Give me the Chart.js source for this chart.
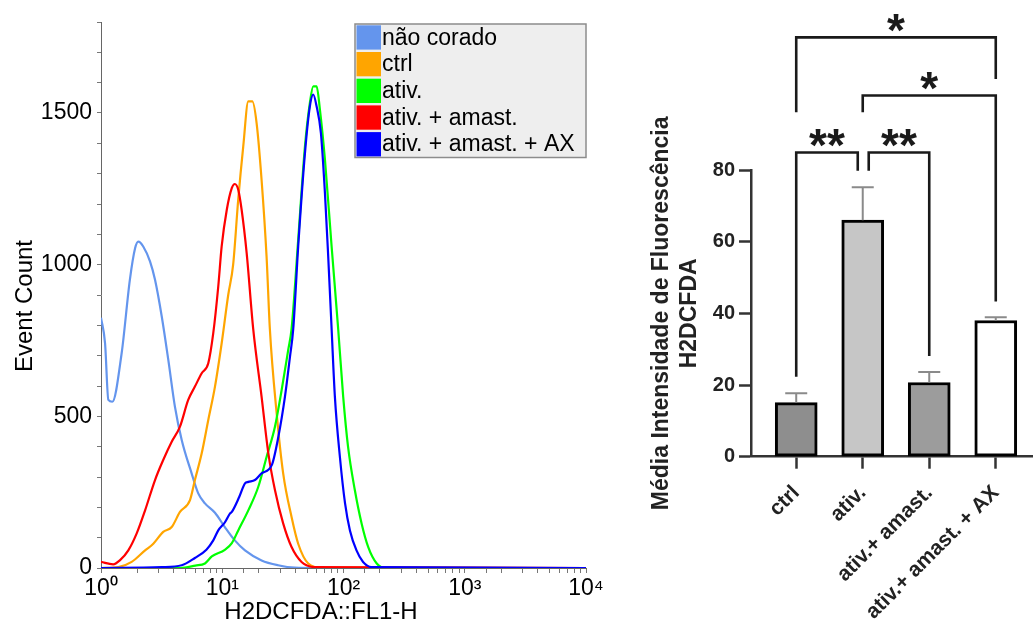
<!DOCTYPE html>
<html>
<head>
<meta charset="utf-8">
<script src="https://cdn.jsdelivr.net/npm/chart.js@4.4.1/dist/chart.umd.min.js"></script>
<style>
  html, body { margin: 0; padding: 0; background: #fff; width: 1033px; height: 621px; overflow: hidden; }
  #hist { position: absolute; left: 0; top: 0; }
  #bars { position: absolute; left: 620px; top: 0; }
</style>
</head>
<body>
<canvas id="hist" width="620" height="621"></canvas>
<canvas id="bars" width="413" height="621"></canvas>
<script>
// ---- histogram overlay (x = H2DCFDA FL1-H, y = event count) ----
const naoCoradoX = [1, 1.08, 1.15, 1.24, 1.48, 1.73, 1.91, 2.03, 2.23, 2.54, 2.79, 3.17, 3.59, 4.07, 4.63, 5.59, 6.34, 7.2, 8.71, 10.5, 12.7, 15.4, 21.1, 28.9, 39.7, 60, 10000]
const naoCoradoY = [825, 741, 554, 548, 708, 950, 1054, 1076, 1060, 1010, 950, 829, 686, 532, 422, 312, 246, 213, 182, 135, 91, 58, 25, 9, 1, 0, 0]

const ctrlX = [1, 1.39, 1.79, 2.31, 2.7, 3.26, 3.83, 4.48, 5.42, 5.95, 6.77, 7.67, 8.71, 9.89, 11.2, 12.3, 13.55, 14.9, 16.4, 17.7, 19.2, 21.1, 23.2, 24.7, 28.1, 31.8, 37.3, 42.3, 51.2, 66, 10000]
const ctrlY = [0, 3, 20, 58, 80, 119, 135, 185, 224, 290, 378, 488, 598, 741, 900, 1000, 1215, 1390, 1538, 1538, 1467, 1280, 1027, 788, 510, 312, 168, 80, 15, 1, 0]

const ativX = [1, 4.5, 6, 7.2, 8.2, 10.5, 12, 13.55, 16.4, 19.8, 23.2, 27.2, 30.9, 35, 37.3, 42.3, 48.1, 52.8, 56.3, 60, 63.9, 70.3, 79.8, 90.4, 99.4, 109, 124, 141, 160, 188, 220, 10000]
const ativY = [0, 0, 8, 15, 38, 60, 82, 124, 190, 267, 366, 466, 587, 719, 788, 1082, 1390, 1533, 1588, 1588, 1511, 1346, 1060, 788, 565, 400, 257, 147, 69, 15, 0, 0]

const amastX = [1, 1.26, 1.43, 1.68, 1.97, 2.31, 2.79, 3.26, 3.83, 4.48, 5.24, 5.95, 6.77, 7.67, 8.43, 9.27, 9.89, 10.9, 12, 12.7, 13.55, 14.45, 15.9, 18, 21.1, 24, 27.2, 31.8, 37.3, 45.1, 58, 10000]
const amastY = [20, 12, 25, 58, 114, 190, 290, 356, 416, 466, 554, 598, 642, 675, 774, 928, 1060, 1181, 1253, 1266, 1247, 1181, 1038, 788, 565, 378, 257, 147, 69, 20, 3, 0]

const amastAxX = [1, 3.17, 4.63, 5.95, 7.4, 8.43, 9.27, 10.5, 11.6, 12, 13.8, 15.4, 16.4, 18.6, 21.1, 25.6, 29, 32.9, 36.2, 38.5, 42.3, 48.1, 52.8, 56.3, 60, 65.1, 70.3, 74.8, 79.8, 84.9, 93.4, 103, 113, 128, 145, 170, 10000]
const amastAxY = [0, 3, 9, 33, 60, 91, 124, 150, 180, 185, 234, 279, 284, 290, 312, 339, 432, 565, 697, 788, 1060, 1368, 1522, 1561, 1522, 1434, 1236, 1027, 788, 565, 366, 213, 124, 58, 20, 3, 0]

const seriesLabels = ['não corado', 'ctrl', 'ativ.', 'ativ. + amast.', 'ativ. + amast. + AX']
const seriesX = [naoCoradoX, ctrlX, ativX, amastX, amastAxX]
const seriesY = [naoCoradoY, ctrlY, ativY, amastY, amastAxY]
const seriesColors = ['#6495ed', '#ffa500', '#00ff00', '#ff0000', '#0000ff']

const decadeLabels = ['10⁰', '10¹', '10²', '10³', '10⁴']

// ---- bar chart: mean fluorescence +/- SD ----
const groupLabels = ['ctrl', 'ativ.', 'ativ.+ amast.', 'ativ.+ amast. + AX']
const meanFluor = [15.1, 66.0, 20.7, 38.0]
const sdFluor = [2.6, 9.2, 2.9, 0.9]
const barFills = ['#8e8e8e', '#c6c6c6', '#9c9c9c', '#ffffff']

// significance brackets: from/to group, line level, leg ends (all in axis units)
const sigBrackets = [
  { from: 0, to: 3, level: 117, dropL: 96.1, dropR: 105.4, mark: '*' },
  { from: 1, to: 3, level: 100.8, dropL: 96.1, dropR: 43.3, mark: '*' },
  { from: 0, to: 0.925, level: 84.9, dropL: 22.3, dropR: 79.8, mark: '**' },
  { from: 1.09, to: 2, level: 84.9, dropL: 79.8, dropR: 28.1, mark: '**' },
]

const FONT = '"Liberation Sans", Arial, sans-serif'

const histDecor = {
  id: 'histDecor',
  afterDraw(chart) {
    const { ctx, chartArea: a } = chart
    ctx.save()
    // legend box in the top-right corner
    const w = 231, rowH = 26.7
    const x0 = a.right - w, y0 = a.top + 2
    ctx.fillStyle = '#eeeeee'
    ctx.fillRect(x0, y0, w, rowH * 5)
    ctx.strokeStyle = '#8c8c8c'
    ctx.lineWidth = 1.5
    ctx.strokeRect(x0, y0, w, rowH * 5)
    ctx.font = '23px ' + FONT
    ctx.textAlign = 'left'
    ctx.textBaseline = 'middle'
    seriesLabels.forEach((lab, i) => {
      const y = y0 + i * rowH
      ctx.fillStyle = seriesColors[i]
      ctx.fillRect(x0 + 1.5, y + 1.3, 24.5, 24.3)
      ctx.fillStyle = '#000'
      ctx.fillText(lab, x0 + 27, y + rowH / 2 + 1)
    })
    // axis titles
    ctx.font = '24px ' + FONT
    ctx.textAlign = 'center'
    ctx.textBaseline = 'alphabetic'
    ctx.fillText('H2DCFDA::FL1-H', 321, 619)
    ctx.translate(31.5, 306)
    ctx.rotate(-Math.PI / 2)
    ctx.fillText('Event Count', 0, 0)
    ctx.restore()
  }
}

new Chart(document.getElementById('hist'), {
  type: 'line',
  data: {
    datasets: seriesLabels.map((lab, i) => ({
      label: lab,
      data: seriesX[i].map((x, j) => ({ x: x, y: seriesY[i][j] })),
      borderColor: seriesColors[i],
      order: 4 - i,
    }))
  },
  options: {
    responsive: false,
    animation: false,
    layout: { padding: { left: 0, top: 22, right: 34, bottom: 0 } },
    plugins: { legend: { display: false }, tooltip: { enabled: false } },
    elements: {
      point: { radius: 0 },
      line: { borderWidth: 2.2, cubicInterpolationMode: 'monotone' }
    },
    scales: {
      x: {
        type: 'logarithmic',
        min: 1,
        max: 10000,
        afterFit(s) { s.height = 53 },
        ticks: {
          autoSkip: false,
          maxRotation: 0,
          padding: 2,
          color: '#000',
          font: { family: FONT, size: 23 },
          callback(v) {
            const e = Math.log10(v)
            return Math.abs(e - Math.round(e)) < 1e-9 ? decadeLabels[Math.round(e)] : ''
          }
        },
        grid: { drawOnChartArea: false, tickLength: 5, tickColor: '#777', tickWidth: 1 },
        border: { color: '#666', width: 1 }
      },
      y: {
        min: 0,
        max: 1800,
        afterFit(s) { s.width = 101 },
        ticks: {
          stepSize: 100,
          autoSkip: false,
          padding: 5,
          color: '#000',
          font: { family: FONT, size: 23 },
          callback: v => (v % 500 === 0 ? v : '')
        },
        grid: { drawOnChartArea: false, tickLength: 4, tickColor: '#777', tickWidth: 1 },
        border: { color: '#666', width: 1 }
      }
    }
  },
  plugins: [histDecor]
})

const barDecor = {
  id: 'barDecor',
  afterDatasetsDraw(chart) {
    const { ctx, scales: { x, y } } = chart
    ctx.save()
    // upper error bars
    ctx.strokeStyle = '#8a8a8a'
    ctx.lineWidth = 2
    meanFluor.forEach((m, i) => {
      const px = x.getPixelForValue(i)
      const top = y.getPixelForValue(m + sdFluor[i])
      const base = y.getPixelForValue(m)
      ctx.beginPath()
      ctx.moveTo(px, base)
      ctx.lineTo(px, top)
      ctx.moveTo(px - 11, top)
      ctx.lineTo(px + 11, top)
      ctx.stroke()
    })
    // significance brackets
    ctx.strokeStyle = '#1a1a1a'
    ctx.lineWidth = 2.6
    ctx.fillStyle = '#1a1a1a'
    ctx.font = 'bold 46px ' + FONT
    ctx.textAlign = 'center'
    ctx.textBaseline = 'alphabetic'
    sigBrackets.forEach(b => {
      const xl = x.getPixelForValue(b.from)
      const xr = x.getPixelForValue(b.to)
      const yl = y.getPixelForValue(b.level)
      ctx.beginPath()
      ctx.moveTo(xl, y.getPixelForValue(b.dropL))
      ctx.lineTo(xl, yl)
      ctx.lineTo(xr, yl)
      ctx.lineTo(xr, y.getPixelForValue(b.dropR))
      ctx.stroke()
      ctx.fillText(b.mark, (xl + xr) / 2, yl + 9)
    })
    ctx.restore()
  }
}

new Chart(document.getElementById('bars'), {
  type: 'bar',
  data: {
    datasets: [{
      data: meanFluor.map((v, i) => ({ x: i, y: v })),
      backgroundColor: barFills,
      borderColor: '#000',
      borderWidth: 3,
      borderSkipped: false,
      barThickness: 42
    }]
  },
  options: {
    responsive: false,
    animation: false,
    layout: { padding: { left: 0, top: 170, right: 0, bottom: 0 } },
    plugins: { legend: { display: false }, tooltip: { enabled: false } },
    scales: {
      x: {
        type: 'linear',
        min: -0.68,
        max: 3.56,
        offset: false,
        afterFit(s) { s.height = 164.3 },
        afterBuildTicks(s) { s.ticks = groupLabels.map((_, i) => ({ value: i })) },
        ticks: {
          autoSkip: false,
          minRotation: 45,
          maxRotation: 45,
          padding: 12,
          color: '#222',
          font: { family: FONT, size: 21, weight: 'bold' },
          callback: v => groupLabels[v] ?? ''
        },
        grid: { drawOnChartArea: false, offset: false, tickLength: 12, tickColor: '#333', tickWidth: 2.5 },
        border: { color: '#333', width: 2.5 }
      },
      y: {
        min: 0,
        max: 80,
        afterFit(s) { s.width = 131 },
        ticks: {
          stepSize: 20,
          padding: 4,
          color: '#222',
          font: { family: FONT, size: 20, weight: 'bold' }
        },
        grid: { drawOnChartArea: false, tickLength: 12, tickColor: '#333', tickWidth: 2.5 },
        border: { color: '#333', width: 2.5 },
        title: {
          display: true,
          text: ['Média Intensidade de Fluorescência', 'H2DCFDA'],
          color: '#222',
          font: { family: FONT, size: 23, weight: 'bold', lineHeight: '28px' },
          padding: { top: 28, bottom: 0 }
        }
      }
    }
  },
  plugins: [barDecor]
})
</script>
</body>
</html>
